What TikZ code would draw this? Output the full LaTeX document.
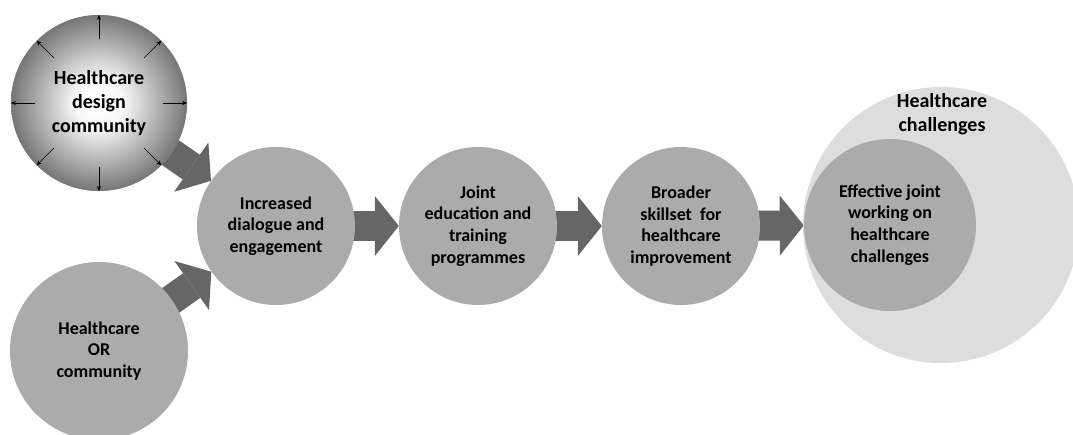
\documentclass[tikz,border=0pt]{standalone}
\usepackage{fontspec}
\setmainfont{Carlito}
\usetikzlibrary{arrows.meta,backgrounds,calc}
\definecolor{stagegray}{RGB}{171,171,171}
\definecolor{arrowgray}{RGB}{102,102,102}
\definecolor{chalgray}{RGB}{221,221,221}
\definecolor{rimgray}{RGB}{118,118,118}
\pgfdeclareradialshading{hdcball}{\pgfpoint{0bp}{0bp}}{color(0bp)=(white); color(7bp)=(white!97!black); color(25bp)=(rimgray); color(50bp)=(rimgray)}
\tikzset{
	stage/.style={circle, fill=stagegray, minimum size=158, inner sep=0, align=center, font=\bfseries\fontsize{18}{21.7}\selectfont},
	bigtext/.style={align=center, font=\bfseries\fontsize{20}{24}\selectfont},
	fat/.style={draw=arrowgray, line width=30pt, -{Triangle[length=24pt,width=60pt,line width=0pt]}},
	spoke/.style={thin, -{Stealth[length=5pt,width=4pt]}}
}
\begin{document}
\begin{tikzpicture}[x=1pt,y=-1pt]
			\useasboundingbox (0,0) rectangle (1073,434);
			\clip (0,0) rectangle (1073,434);
			\node	(hdc) at (99,103) [stage, bigtext, minimum size=176, shade, shading=hdcball] {Healthcare\\design\\community};
			\node	(hor) at (99,351) [stage, minimum size=178] {Healthcare\\OR\\community};
			\node	(dlg) at (276,226) [stage] {Increased\\dialogue and\\engagement};
			\node	(jnt) at (478,226) [stage] {Joint\\education and\\training\\programmes};
			\node	(brd) at (681,226) [stage] {Broader\\skillset\ \ for\\healthcare\\improvement};
			\node	(chal) at (941,225) [circle, fill=chalgray, minimum size=276] {};
			\node	(chaltxt) at (942,114) [bigtext] {Healthcare\\challenges};
			\node	(eff) at (890,225) [stage, minimum size=172] {Effective joint\\working on\\healthcare\\challenges};
			\foreach \a in {0,45,...,315}
				\draw[spoke] ($(hdc.center)!0.72!(hdc.\a)$) -- (hdc.\a);
			\begin{scope}[on background layer]
			\draw 
			(hdc.center) edge[fat] (dlg)
			(hor.center) edge[fat] (dlg)
			(dlg.center) edge[fat] (jnt)
			(jnt.center) edge[fat] (brd)
			(brd.center) edge[fat] (eff)
			;
			\end{scope}
		\end{tikzpicture}
\end{document}
